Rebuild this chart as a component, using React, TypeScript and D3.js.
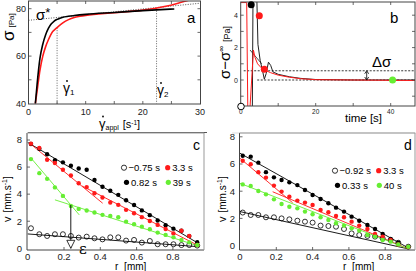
import React from "react";
import * as d3 from "d3";

// ---------- panel a : flow curve ----------
const rateBlack = [1.2, 1.5, 2, 2.5, 3, 3.5, 4, 4.5, 5, 5.5, 6, 7, 8, 10, 15, 20, 25.5];
const sigmaBlack = [40, 48, 59, 65, 69, 71.8, 73.6, 74.8, 75.5, 76, 76.4, 76.8, 77.1, 77.6, 78.4, 79.2, 79.9];
const rateRed = [1.2, 1.6, 2, 2.5, 3, 3.5, 4, 5, 6, 7, 8, 9, 10, 15, 20, 22, 24, 26, 28, 30];
const sigmaRed = [40, 47, 54, 60, 64, 67, 69.5, 72, 74, 75.4, 76.3, 76.8, 77.2, 78.3, 79.4, 80.1, 81, 82.2, 83.6, 85];
const sigmaStarLine = [[0, 75.1], [30, 82.3]];
const gamma1 = 5;
const gamma2 = 22.4;

// ---------- panel b : stress transient ----------
const timeRed = [0, 1.6, 1.9, 2.4, 3.4, 3.8, 4.5, 5.5, 6.5, 8, 10, 13, 16, 20, 30, 46.5];
const stressRed = [4.78, 4.78, -2, -2, 1.85, 1.4, 1.0, 0.75, 0.6, 0.45, 0.3, 0.17, 0.08, 0.02, 0, -0.03];
const timeBlack = [0, 3.1, 3.3, 3.6, 4.2, 4.6, 5.2, 5.8, 6.3, 6.8, 7.4, 8.0, 8.6, 10, 13, 16, 20, 30, 46.5];
const stressBlack = [-2, -2, 6, 6, 6, 2.2, 1.2, 0.6, 0.05, 0.4, 1.1, 0.9, 0.5, 0.35, 0.2, 0.1, 0.03, 0, 0];
const tangentB = [[2.5, 1.85], [5.6, 1.0]];
const markersB = [
  { t: 2.8, s: 4.65, c: "#000" },
  { t: 4.96, s: 3.97, c: "#ff1a1a" },
  { t: 6.3, s: 0.66, c: "#ff1a1a" },
  { t: 40.5, s: 0, c: "#66ee33" },
];
const deltaSigma = 0.57;

// ---------- panel c : velocity profiles ----------
const rC = [0.018, 0.064, 0.107, 0.15, 0.194, 0.238, 0.281, 0.325, 0.368, 0.412, 0.455, 0.499, 0.542, 0.586, 0.629, 0.673, 0.716, 0.76, 0.803, 0.847, 0.89, 0.934];
const vOpenC = [1.48, 1.04, 0.91, 1.04, 1.04, 0.91, 0.79, 0.86, 0.74, 0.66, 0.81, 0.81, 0.57, 0.62, 0.42, 0.54, 0.3, 0.3, 0.3, 0.24, 0.24, 0.2];
const vBlackC = [7.7, 7.35, 6.95, 6.5, 6.35, 6.1, 5.9, 5.8, 5.05, 4.55, 4.25, 3.95, 3.55, 3.2, 2.8, 2.45, 2.05, 1.7, 1.45, 1.3, 0.9, 0.45];
const vRedC = [7.73, 7.41, 6.54, 6.3, 5.8, 5.38, 4.81, 4.52, 4.07, 3.75, 3.38, 3.21, 2.84, 2.59, 2.3, 2.02, 1.73, 1.43, 1.1, 1.3, 0.91, 0.24];
const vGreenC = [6.59, 5.55, 5.13, 4.5, 3.87, 3.13, 2.91, 2.79, 2.64, 2.47, 2.39, 2.29, 1.97, 1.78, 1.6, 1.41, 1.16, 0.99, 0.81, 0.61, 0.44, 0.24];
const fitsC = [
  { c: "#000", p: [[0, 7.82], [0.94, 0.37]] },
  { c: "#000", p: [[0, 1.06], [0.94, 0.12]] },
  { c: "#ff1a1a", p: [[0.009, 7.78], [0.413, 3.33]] },
  { c: "#ff1a1a", p: [[0.3, 4.6], [0.94, 0.2]] },
  { c: "#66ee33", p: [[0.018, 6.67], [0.284, 2.47]] },
  { c: "#66ee33", p: [[0.15, 3.58], [0.94, 0.17]] },
];
const epsR = 0.2375;
const epsV = 3.2;
const legendC = ["\u22120.75 s", "3.3 s", "0.82 s", "39 s"];

// ---------- panel d : velocity profiles ----------
const rD = [0.015, 0.059, 0.101, 0.143, 0.187, 0.229, 0.272, 0.316, 0.358, 0.4, 0.444, 0.487, 0.529, 0.573, 0.615, 0.657, 0.702, 0.744, 0.786, 0.83, 0.872, 0.927];
const vOpenD = [2.43, 2.25, 2.25, 2.08, 2.08, 2.0, 1.93, 1.83, 1.76, 1.69, 1.47, 1.44, 1.39, 1.22, 0.9, 0.78, 0.71, 0.66, 0.53, 0.41, 0.21, -0.08];
const vBlackD = [6.61, 6.54, 6.1, 5.4, 5.02, 4.82, 4.65, 4.45, 4.09, 3.72, 3.43, 3.11, 2.79, 2.5, 2.13, 1.83, 1.52, 1.22, 0.85, 0.48, 0.21, -0.08];
const vRedD = [6.24, 5.98, 5.4, 5.0, 4.41, 3.97, 3.6, 3.31, 3.16, 2.99, 2.62, 2.45, 2.18, 2.08, 1.76, 1.47, 1.22, 0.85, 0.66, 0.41, 0.09, -0.1];
const vGreenD = [4.5, 4.38, 4.01, 3.77, 3.4, 3.06, 2.86, 2.74, 2.5, 2.3, 2.08, 1.88, 1.64, 1.47, 1.27, 1.1, 0.78, 0.66, 0.41, 0.29, 0.09, -0.08];
const fitsD = [
  { c: "#000", p: [[0, 6.79], [0.931, -0.2]] },
  { c: "#000", p: [[0, 2.5], [0.93, -0.25]] },
  { c: "#ff1a1a", p: [[0, 6.42], [0.29, 3.15]] },
  { c: "#ff1a1a", p: [[0.18, 3.96], [0.92, -0.2]] },
  { c: "#66ee33", p: [[0, 4.58], [0.92, -0.2]] },
];
const legendD = ["\u22120.92 s", "3.3 s", "0.33 s", "40 s"];

const FONT = "'Liberation Sans', Arial, sans-serif";
const RED = "#ff1a1a";
const GREEN = "#66ee33";
const FRAME = "#444";

type Scale = d3.ScaleLinear<number, number>;

function Ticks(props: { x: Scale; y: Scale; xt: number[]; yt: number[]; box: number[]; both?: boolean }) {
  const [x0, y0, x1, y1] = props.box;
  const len = 3;
  return (
    <g stroke={FRAME} strokeWidth={0.8}>
      {props.xt.map((t) => (
        <g key={"x" + t}>
          <line x1={props.x(t)} x2={props.x(t)} y1={y1} y2={y1 - len} />
          {props.both && <line x1={props.x(t)} x2={props.x(t)} y1={y0} y2={y0 + len} />}
        </g>
      ))}
      {props.yt.map((t) => (
        <g key={"y" + t}>
          <line x1={x0} x2={x0 + len} y1={props.y(t)} y2={props.y(t)} />
          {props.both && <line x1={x1} x2={x1 - len} y1={props.y(t)} y2={props.y(t)} />}
        </g>
      ))}
    </g>
  );
}

function GammaDot(props: { x: number; y: number; sub: string }) {
  return (
    <g>
      <text x={props.x} y={props.y} fontSize={14} fontFamily={FONT}>
        γ<tspan fontSize={8} dy={2}>{props.sub}</tspan>
      </text>
      <circle cx={props.x + 4} cy={props.y - 12} r={0.9} fill="#000" />
    </g>
  );
}

function PanelA() {
  const x = d3.scaleLinear().domain([0, 30]).range([28.5, 200]);
  const y = d3.scaleLinear().domain([40, 80]).range([103.5, 8.7]);
  const box = [28.5, 1, 200.5, 104];
  const line = d3.line<number>().curve(d3.curveMonotoneX);
  const black = line(rateBlack.map((r, i) => [x(r), y(sigmaBlack[i])]) as any);
  const red = line(rateRed.map((r, i) => [x(r), y(sigmaRed[i])]) as any);
  return (
    <g>
      <defs>
        <clipPath id="clipA">
          <rect x={box[0]} y={box[1]} width={box[2] - box[0]} height={box[3] - box[1]} />
        </clipPath>
      </defs>
      <g clipPath="url(#clipA)">
        <line x1={x(sigmaStarLine[0][0])} y1={y(sigmaStarLine[0][1])} x2={x(sigmaStarLine[1][0])} y2={y(sigmaStarLine[1][1])} stroke="#555" strokeDasharray="1,1.5" />
        <line x1={x(gamma1)} x2={x(gamma1)} y1={y(72)} y2={y(40)} stroke="#666" strokeDasharray="1,1.5" />
        <line x1={x(gamma2)} x2={x(gamma2)} y1={y(80.2)} y2={y(40)} stroke="#666" strokeDasharray="1,1.5" />
        <path d={red as string} fill="none" stroke={RED} strokeWidth={1.6} />
        <path d={black as string} fill="none" stroke="#000" strokeWidth={1.6} />
      </g>
      <rect x={box[0]} y={box[1]} width={box[2] - box[0]} height={box[3] - box[1]} fill="none" stroke={FRAME} strokeWidth={1} />
      <Ticks x={x} y={y} xt={[5, 10, 15, 20, 25]} yt={[50, 60, 70, 80]} box={box} both />
      <g fontFamily={FONT} fontSize={9} fill="#222">
        {[80, 60, 40].map((t) => (
          <text key={t} x={26} y={y(t) + 3} textAnchor="end">{t}</text>
        ))}
        {[0, 10, 20, 30].map((t) => (
          <text key={t} x={x(t)} y={115} textAnchor="middle">{t}</text>
        ))}
      </g>
      <text transform="translate(14,41) rotate(-90)" fontFamily={FONT}>
        <tspan fontSize={17}>σ</tspan>
        <tspan fontSize={8} dx={3}>[Pa]</tspan>
      </text>
      <text x={36} y={20} fontFamily={FONT} fontSize={15}>
        σ<tspan fontSize={13} dy={-3}>*</tspan>
      </text>
      <text x={187} y={23} fontFamily={FONT} fontSize={15}>a</text>
      <GammaDot x={63} y={93} sub="1" />
      <GammaDot x={157} y={95} sub="2" />
      <text x={99} y={127.5} fontFamily={FONT} fontSize={13}>
        γ<tspan fontSize={7} dy={2.5}>appl</tspan>
        <tspan fontSize={11} dy={-2.5} dx={4}>[s</tspan>
        <tspan fontSize={6.5} dy={-3}>-1</tspan>
        <tspan fontSize={11} dy={3}>]</tspan>
      </text>
      <circle cx={103} cy={116.5} r={0.9} fill="#000" />
      <line x1={28} x2={207} y1={132.5} y2={132.5} stroke="#555" strokeWidth={1} />
    </g>
  );
}

function PanelB() {
  const x = d3.scaleLinear().domain([0, 40]).range([240.7, 390.7]);
  const y = d3.scaleLinear().domain([0, 4]).range([80, 15.2]);
  const box = [240.7, 2, 415, 106];
  const line = d3.line<number[]>().x((d) => x(d[0])).y((d) => y(d[1]));
  const red = line(timeRed.map((t, i) => [t, stressRed[i]]));
  const black = line(timeBlack.map((t, i) => [t, stressBlack[i]]));
  const ax = x(33.6);
  return (
    <g>
      <defs>
        <clipPath id="clipB">
          <rect x={box[0]} y={box[1]} width={box[2] - box[0]} height={box[3] - box[1]} />
        </clipPath>
      </defs>
      <g clipPath="url(#clipB)">
        <line x1={x(0.8)} x2={box[2]} y1={y(deltaSigma)} y2={y(deltaSigma)} stroke="#222" strokeDasharray="2,1.5" strokeWidth={0.9} />
        <line x1={x(4.4)} x2={box[2]} y1={y(0)} y2={y(0)} stroke="#222" strokeDasharray="2,1.5" strokeWidth={0.9} />
        <path d={black as string} fill="none" stroke="#222" strokeWidth={1} />
        <path d={line(tangentB) as string} fill="none" stroke="#222" strokeWidth={0.8} />
        <path d={red as string} fill="none" stroke={RED} strokeWidth={1} />
      </g>
      <rect x={box[0]} y={box[1]} width={box[2] - box[0]} height={box[3] - box[1]} fill="none" stroke={FRAME} strokeWidth={1} />
      <Ticks x={x} y={y} xt={[10, 20, 30, 40]} yt={[-1, 0, 1, 2, 3, 4]} box={box} both />
      {markersB.map((m, i) => (
        <circle key={i} cx={x(m.t)} cy={y(m.s)} r={3.5} fill={m.c} />
      ))}
      <circle cx={241} cy={106.5} r={3.3} fill="#fff" stroke="#000" strokeWidth={1} />
      <line x1={ax} x2={ax} y1={y(deltaSigma) + 1} y2={y(0) - 1} stroke="#000" strokeWidth={0.8} />
      <path d={`M${ax - 2},${y(deltaSigma) + 3}L${ax},${y(deltaSigma)}L${ax + 2},${y(deltaSigma) + 3}`} fill="none" stroke="#000" strokeWidth={0.8} />
      <path d={`M${ax - 2},${y(0) - 3}L${ax},${y(0)}L${ax + 2},${y(0) - 3}`} fill="none" stroke="#000" strokeWidth={0.8} />
      <g fontFamily={FONT} fontSize={7} fill="#222">
        {[4, 2, 0].map((t) => (
          <text key={t} x={238} y={y(t) + 2.5} textAnchor="end">{t}</text>
        ))}
        {[0, 20, 40].map((t) => (
          <text key={t} x={x(t)} y={113.5} textAnchor="middle" fontSize={6.5}>{t}</text>
        ))}
      </g>
      <text transform="translate(230,79) rotate(-90)" fontFamily={FONT}>
        <tspan fontSize={15}>σ−σ</tspan>
        <tspan fontSize={8} dy={-6}>∞</tspan>
        <tspan fontSize={9} dy={6} dx={4}>[Pa]</tspan>
      </text>
      <text x={345} y={122} fontFamily={FONT} fontSize={11.5}>time [s]</text>
      <text x={372} y={67} fontFamily={FONT} fontSize={15}>Δσ</text>
      <text x={390} y={23} fontFamily={FONT} fontSize={15}>b</text>
      <line x1={232} x2={416} y1={133} y2={133} stroke="#ddd" strokeWidth={1} />
    </g>
  );
}

function Legend(props: { x: number; y: number; labels: string[] }) {
  const { x, y, labels } = props;
  const fills = ["#fff", RED, "#000", GREEN];
  const pos = [
    [x, y],
    [x + 43.7, y],
    [x + 2.5, y + 14.6],
    [x + 44.3, y + 14.6],
  ];
  return (
    <g fontFamily={FONT} fontSize={9.5}>
      {labels.map((l, i) => (
        <g key={i}>
          <circle cx={pos[i][0]} cy={pos[i][1]} r={2.6} fill={fills[i]} stroke={i === 0 ? "#000" : "none"} strokeWidth={0.8} />
          <text x={pos[i][0] + 4.5} y={pos[i][1] + 3.3}>{l}</text>
        </g>
      ))}
    </g>
  );
}

function Profiles(props: {
  x: Scale; y: Scale; box: number[]; r: number[];
  open: number[]; black: number[]; red: number[]; green: number[];
  fits: { c: string; p: number[][] }[]; letter: string; legend: string[];
  legendXY: number[]; ylabX: number; xlabX: number; id: string; yLabRight: number;
  children?: React.ReactNode;
}) {
  const { x, y, box, r } = props;
  const line = d3.line<number[]>().x((d) => x(d[0])).y((d) => y(d[1]));
  const dots = (vals: number[], fill: string) =>
    vals.map((v, i) => <circle key={fill + i} cx={x(r[i])} cy={y(v)} r={2.2} fill={fill} />);
  return (
    <g>
      <defs>
        <clipPath id={props.id}>
          <rect x={box[0]} y={box[1]} width={box[2] - box[0]} height={box[3] - box[1]} />
        </clipPath>
      </defs>
      <g clipPath={`url(#${props.id})`}>
        {props.fits.map((f, i) => (
          <path key={i} d={line(f.p) as string} fill="none" stroke={f.c} strokeWidth={0.9} />
        ))}
        {props.open.map((v, i) => (
          <circle key={"o" + i} cx={x(r[i])} cy={y(v)} r={2.5} fill="none" stroke="#000" strokeWidth={0.8} />
        ))}
        {dots(props.black, "#000")}
        {dots(props.red, RED)}
        {dots(props.green, GREEN)}
      </g>
      <path d={`M${box[0]},${box[1]}V${box[3]}H${box[2]}`} fill="none" stroke={FRAME} strokeWidth={1} />
      <path d={`M${box[0]},${box[1]}H${box[2]}V${box[3]}`} fill="none" stroke="#999" strokeWidth={1} />
      <Ticks x={x} y={y} xt={[0.2, 0.4, 0.6, 0.8]} yt={[2, 4, 6, 8]} box={box} />
      <g fontFamily={FONT} fontSize={9.5} fill="#222">
        {[8, 6, 4, 2, 0].map((t) => (
          <text key={t} x={props.yLabRight} y={y(t) + 3.3} textAnchor="end">{t}</text>
        ))}
        {[0, 0.2, 0.4, 0.6, 0.8].map((t) => (
          <text key={t} x={x(t)} y={259.5} textAnchor="middle">{t}</text>
        ))}
      </g>
      <text x={props.xlabX} y={270} fontFamily={FONT} fontSize={10}>r  <tspan dx={3}>[mm]</tspan></text>
      <text transform={`translate(${props.ylabX},222) rotate(-90)`} fontFamily={FONT} fontSize={10}>
        <tspan fontSize={11}>v</tspan>
        <tspan dx={4}>[mm.s</tspan>
        <tspan fontSize={7} dy={-4}>-1</tspan>
        <tspan dy={4}>]</tspan>
      </text>
      <text x={box[2] - 11} y={150} fontFamily={FONT} fontSize={14}>{props.letter}</text>
      <Legend x={props.legendXY[0]} y={props.legendXY[1]} labels={props.legend} />
      {props.children}
    </g>
  );
}

function PanelC() {
  const x = d3.scaleLinear().domain([0, 0.8]).range([27.7, 172.9]);
  const y = d3.scaleLinear().domain([0, 8]).range([248.3, 140]);
  const box = [27, 133, 204, 250];
  const ax = x(epsR);
  return (
    <Profiles x={x} y={y} box={box} r={rC} open={vOpenC} black={vBlackC} red={vRedC} green={vGreenC}
      fits={fitsC} letter="c" legend={legendC} legendXY={[124, 167.7]} ylabX={11} xlabX={115} id="clipC" yLabRight={22}>
      <line x1={ax} x2={ax} y1={y(epsV)} y2={y(0)} stroke="#000" strokeWidth={0.9} />
      <path d={`M${ax - 4},${y(0) - 8}L${ax + 4},${y(0) - 8}L${ax},${y(0)}Z`} fill="#fff" stroke="#000" strokeWidth={0.8} />
      <text x={79} y={254} fontFamily="'DejaVu Serif', serif" fontSize={15}>ε</text>
    </Profiles>
  );
}

function PanelD() {
  const x = d3.scaleLinear().domain([0, 0.8]).range([240, 385.2]);
  const y = d3.scaleLinear().domain([0, 8]).range([245.6, 136.8]);
  const box = [239.5, 133, 415, 250];
  return (
    <Profiles x={x} y={y} box={box} r={rD} open={vOpenD} black={vBlackD} red={vRedD} green={vGreenD}
      fits={fitsD} letter="d" legend={legendD} legendXY={[335, 170.7]} ylabX={226} xlabX={343} id="clipD" yLabRight={235} />
  );
}

export default function App() {
  return (
    <div style={{ position: "absolute", left: 0, top: 0 }}>
      <svg width={416} height={271} style={{ display: "block", background: "#fff" }}>
        <PanelA />
        <PanelB />
        <PanelC />
        <PanelD />
      </svg>
    </div>
  );
}
